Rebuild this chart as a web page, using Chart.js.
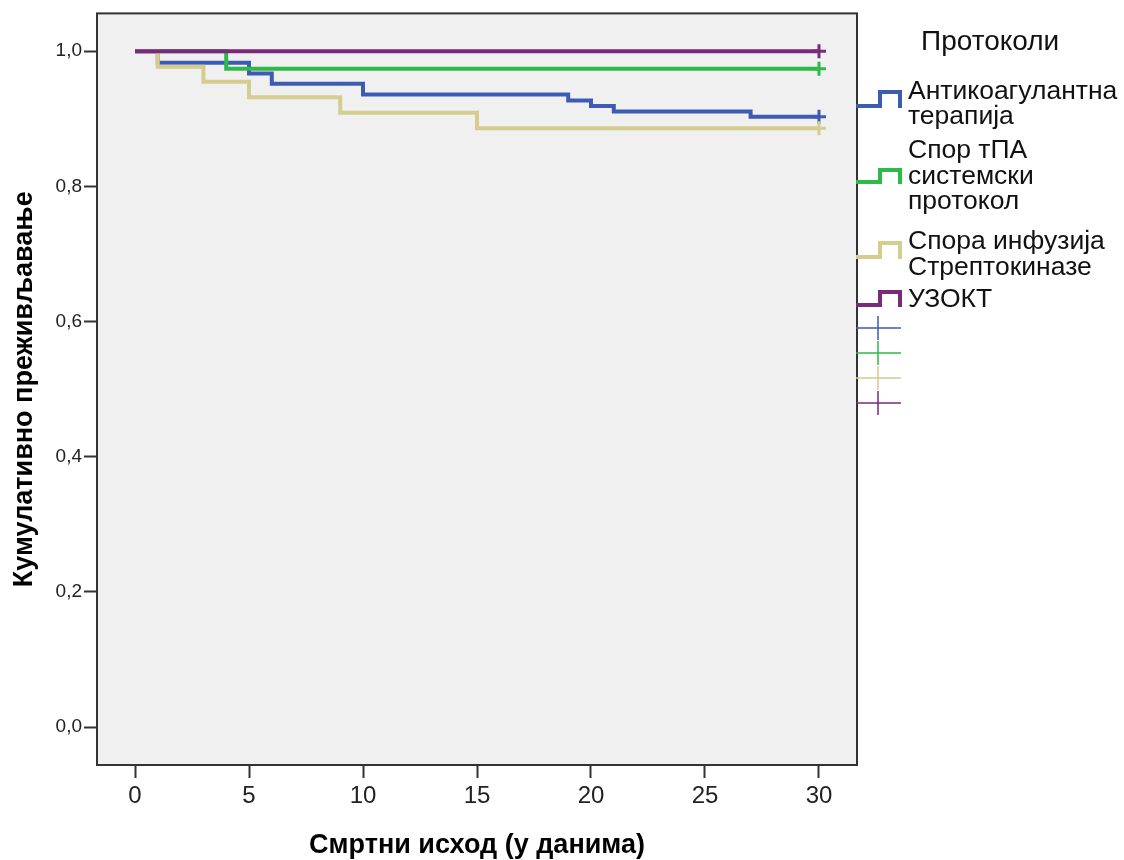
<!DOCTYPE html>
<html>
<head>
<meta charset="utf-8">
<title>Кумулативно преживљавање</title>
<style>
  html, body { margin: 0; padding: 0; background: #fff; }
  canvas { display: block; }
</style>
</head>
<body>
<canvas id="km" width="1124" height="860"></canvas>
<script src="https://cdn.jsdelivr.net/npm/chart.js@4.4.1/dist/chart.umd.min.js"></script>
<script>
// групе (протоколи), редови легенде
var protokoli = ['Антикоагулантна терапија', 'Спор тПА системски протокол', 'Спора инфузија Стрептокиназе', 'УЗОКТ'];
var legendaRedovi = [['Антикоагулантна', 'терапија'], ['Спор тПА', 'системски', 'протокол'], ['Спора инфузија', 'Стрептокиназе'], ['УЗОКТ']];

// дан пада криве и кумулативно преживљавање после њега
var daniAntikoag = [0, 1, 5, 6, 10, 19, 20, 21, 27, 30];
var prezAntikoag = [1.0, 0.983, 0.967, 0.952, 0.936, 0.927, 0.919, 0.911, 0.903, 0.903];

var daniTpa = [0, 4, 30];
var prezTpa = [1.0, 0.974, 0.974];

var daniStrepto = [0, 1, 3, 5, 9, 15, 30];
var prezStrepto = [1.0, 0.977, 0.955, 0.932, 0.909, 0.886, 0.886];

var daniUzokt = [0, 30];
var prezUzokt = [1.0, 1.0];

var xTikovi = [0, 5, 10, 15, 20, 25, 30];
var yTikovi = [0.0, 0.2, 0.4, 0.6, 0.8, 1.0];

var boje = ['#3e5bb4', '#2fb947', '#d4cd8e', '#7a2a7c'];

var fontSans = '"Liberation Sans", Arial, sans-serif';

function serija(ime, dani, prez, boja, red) {
    var n = dani.length;
    return {
        label: ime,
        data: dani.map(function (d, i) { return { x: d, y: prez[i] }; }),
        borderColor: boja,
        backgroundColor: boja,
        borderWidth: 4,
        stepped: true,
        fill: false,
        borderCapStyle: 'butt',
        borderJoinStyle: 'miter',
        pointStyle: 'cross',
        pointRadius: dani.map(function (d, i) { return i === n - 1 ? 7 : 0; }),
        pointBorderColor: boja,
        pointBorderWidth: 3,
        pointHoverRadius: 0,
        order: red
    };
}

// позадина и оквир графика
var okvir = {
    id: 'okvir',
    beforeDraw: function (chart) {
        var a = chart.chartArea, ctx = chart.ctx;
        ctx.save();
        ctx.fillStyle = '#f0f0f0';
        ctx.fillRect(a.left, a.top, a.right - a.left, a.bottom - a.top);
        ctx.restore();
    },
    afterDraw: function (chart) {
        var a = chart.chartArea, ctx = chart.ctx;
        ctx.save();
        ctx.strokeStyle = '#333';
        ctx.lineWidth = 2;
        ctx.strokeRect(a.left, a.top, a.right - a.left, a.bottom - a.top);
        ctx.restore();
    }
};

// легенда као у SPSS-у
var legenda = {
    id: 'legenda',
    afterDraw: function (chart) {
        var ctx = chart.ctx;
        var x0 = chart.chartArea.right - 1;
        ctx.save();
        ctx.fillStyle = '#111';
        ctx.textBaseline = 'middle';
        ctx.font = '28px ' + fontSans;
        ctx.fillText('Протоколи', 921, 42);

        ctx.font = '26.5px ' + fontSans;
        var tekstY = [[92, 117], [151, 177, 202], [242, 268], [300]];
        var ikonaY = [[106, 92], [182, 170], [257, 243], [305, 292]];
        for (var i = 0; i < legendaRedovi.length; i++) {
            ctx.strokeStyle = boje[i];
            ctx.lineWidth = 4;
            ctx.lineJoin = 'miter';
            ctx.beginPath();
            ctx.moveTo(x0, ikonaY[i][0]);
            ctx.lineTo(880, ikonaY[i][0]);
            ctx.lineTo(880, ikonaY[i][1]);
            ctx.lineTo(900, ikonaY[i][1]);
            ctx.lineTo(900, ikonaY[i][0] + 2);
            ctx.stroke();
            for (var j = 0; j < legendaRedovi[i].length; j++) {
                ctx.fillText(legendaRedovi[i][j], 908, tekstY[i][j]);
            }
        }
        var krstY = [328, 353, 378, 403];
        for (var k = 0; k < krstY.length; k++) {
            ctx.strokeStyle = boje[k];
            ctx.lineWidth = 1.5;
            ctx.beginPath();
            ctx.moveTo(x0, krstY[k]);
            ctx.lineTo(901, krstY[k]);
            ctx.moveTo(878, krstY[k] - 12);
            ctx.lineTo(878, krstY[k] + 12);
            ctx.stroke();
        }
        ctx.restore();
    }
};

new Chart(document.getElementById('km'), {
    type: 'line',
    data: {
        datasets: [
            serija(protokoli[0], daniAntikoag, prezAntikoag, boje[0], 4),
            serija(protokoli[1], daniTpa, prezTpa, boje[1], 3),
            serija(protokoli[2], daniStrepto, prezStrepto, boje[2], 2),
            serija(protokoli[3], daniUzokt, prezUzokt, boje[3], 1)
        ]
    },
    options: {
        responsive: false,
        animation: false,
        devicePixelRatio: 1,
        layout: { padding: { left: 0, right: 267, top: 12, bottom: 0 } },
        plugins: {
            legend: { display: false },
            tooltip: { enabled: false }
        },
        scales: {
            x: {
                type: 'linear',
                min: -1.667,
                max: 31.667,
                afterFit: function (s) { s.height = 95; },
                afterBuildTicks: function (s) { s.ticks = xTikovi.map(function (v) { return { value: v }; }); },
                grid: { drawOnChartArea: false, drawTicks: true, tickLength: 13, tickWidth: 2, tickColor: '#333' },
                border: { display: false },
                ticks: {
                    color: '#222',
                    padding: 6,
                    maxRotation: 0,
                    font: { family: fontSans, size: 24, lineHeight: 1 },
                    callback: function (v) { return String(v); }
                },
                title: {
                    display: true,
                    text: 'Смртни исход (у данима)',
                    color: '#000',
                    padding: { top: 0, bottom: 1 },
                    font: { family: fontSans, size: 27, weight: 'bold', lineHeight: 1 }
                }
            },
            y: {
                min: -0.056,
                max: 1.056,
                afterFit: function (s) { s.width = 97; },
                afterBuildTicks: function (s) { s.ticks = yTikovi.map(function (v) { return { value: v }; }); },
                grid: { drawOnChartArea: false, drawTicks: true, tickLength: 13, tickWidth: 2, tickColor: '#333' },
                border: { display: false },
                ticks: {
                    color: '#222',
                    padding: 2,
                    font: { family: fontSans, size: 19 },
                    callback: function (v) { return v.toFixed(1).replace('.', ','); }
                },
                title: {
                    display: true,
                    text: 'Кумулативно преживљавање',
                    color: '#000',
                    padding: { top: 11, bottom: 0 },
                    font: { family: fontSans, size: 27, weight: 'bold', lineHeight: 1 }
                }
            }
        }
    },
    plugins: [okvir, legenda]
});
</script>
</body>
</html>
